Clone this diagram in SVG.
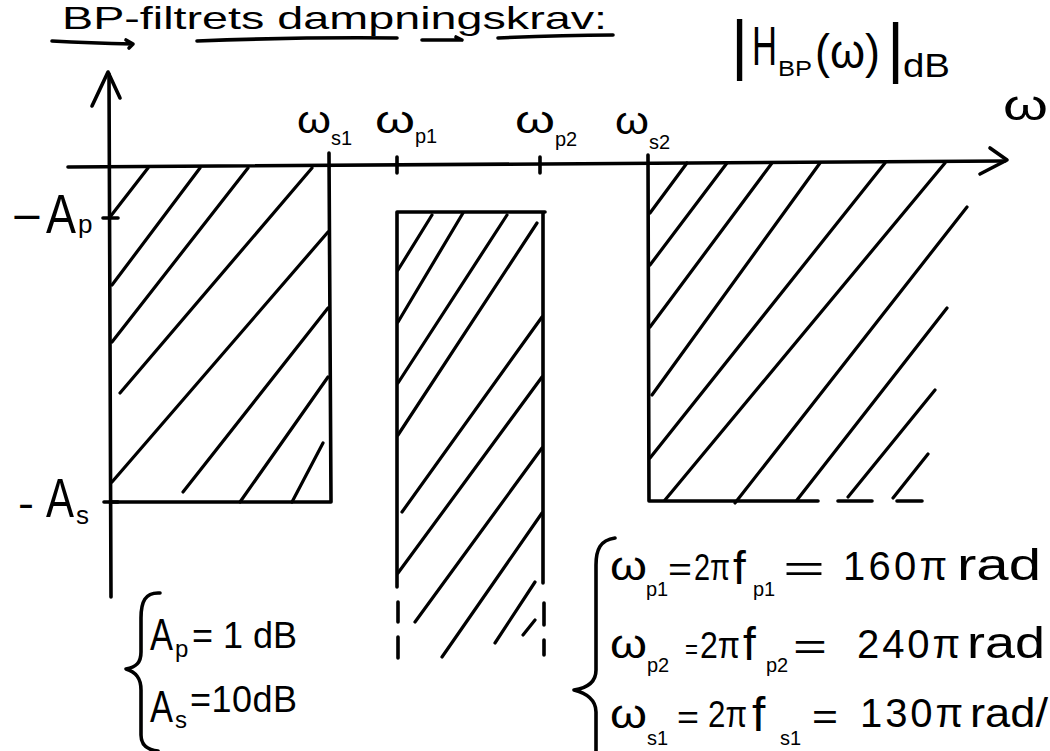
<svg xmlns="http://www.w3.org/2000/svg" width="1050" height="751" viewBox="0 0 1050 751">
<style>
.ln{stroke:#000;stroke-width:3.6;fill:none;stroke-linecap:round;stroke-linejoin:round}
.h{stroke:#000;stroke-width:3.2;fill:none;stroke-linecap:round}
text{font-family:"Liberation Sans","DejaVu Sans",sans-serif;fill:#000}
.sub{font-size:20px}
</style>
<rect width="1050" height="751" fill="#fff"/>
<g id="title">
<text x="62" y="29" font-size="32" textLength="545" lengthAdjust="spacingAndGlyphs">BP-filtrets dampningskrav:</text>
<path class="ln" d="M52 41 Q90 43 133 44 M126 40 L133 44 L129 48"/>
<path class="ln" d="M197 41 Q300 37 397 38"/>
<path class="ln" d="M422 40 L462 40 M456 37 L462 40"/>
<path class="ln" d="M498 38 Q560 35 613 35"/>
</g>
<g id="axes">
<path class="ln" d="M68 167 L1005 161"/>
<path class="ln" d="M990 148 L1007 160 L980 174"/>
<path class="ln" d="M111 597 L109 74"/>
<path class="ln" d="M92 106 L108 72 L120 98" stroke-width="4.5"/>
<path class="ln" d="M103 218 L118 218 M104 502 L118 502" stroke-width="4.5"/>
<path class="ln" d="M397 157 L397 173 M540 157 L540 173"/>
</g>
<g id="left-band">
<path class="ln" d="M329 153 L331 502 L110 502"/>
<path class="h" d="M110 217 L148 168 M112 285 L200 168 M112 342 L248 168 M120 393 L312 168 M112 482 L328 232 M183 492 L328 308 M240 502 L328 377 M292 502 L323 443"/>
</g>
<g id="pass-band">
<path class="ln" d="M397 587 L397 212 L545 212 M543 212 L543 583"/>
<path class="ln" d="M398 602 L398 622 M398 637 L398 658 M544 603 L544 625 M544 640 L544 655"/>
<path class="h" d="M398 270 L432 215 M398 322 L463 213 M398 383 L507 215 M398 435 L537 223 M402 512 L542 317 M398 573 L542 377 M415 622 L542 448 M442 657 L542 513 M495 643 L535 582 M523 635 L535 620"/>
</g>
<g id="right-band">
<path class="ln" d="M648 155 L649 501 L818 501 M838 501 L872 501 M897 501 L922 501"/>
<path class="h" d="M650 213 L687 163 M650 265 L727 163 M650 327 L772 163 M652 395 L820 163 M650 458 L885 163 M665 500 L945 163 M735 503 L967 207 M797 500 L947 308 M848 497 L935 390 M893 498 L928 454"/>
</g>
<g id="labels">
<text x="731" y="67" font-size="66">|</text>
<text x="752" y="65" font-size="56" textLength="25" lengthAdjust="spacingAndGlyphs">H</text>
<text x="778" y="76" font-size="22" textLength="34" lengthAdjust="spacingAndGlyphs">BP</text>
<text x="815" y="68" font-size="48" textLength="65" lengthAdjust="spacingAndGlyphs">(ω)</text>
<text x="887" y="70" font-size="66">|</text>
<text x="903" y="77" font-size="34" textLength="47" lengthAdjust="spacingAndGlyphs">dB</text>
<text x="1003" y="120" font-size="42" textLength="45" lengthAdjust="spacingAndGlyphs">ω</text>
<text x="297" y="133" font-size="38" textLength="34" lengthAdjust="spacingAndGlyphs">ω</text>
<text x="331" y="145" class="sub">s1</text>
<text x="375" y="133" font-size="38" textLength="40" lengthAdjust="spacingAndGlyphs">ω</text>
<text x="415" y="143" class="sub">p1</text>
<text x="515" y="133" font-size="38" textLength="40" lengthAdjust="spacingAndGlyphs">ω</text>
<text x="555" y="146" class="sub">p2</text>
<text x="615" y="134" font-size="38" textLength="34" lengthAdjust="spacingAndGlyphs">ω</text>
<text x="649" y="149" class="sub">s2</text>
<text x="12" y="232" font-size="44" textLength="30" lengthAdjust="spacingAndGlyphs">−</text>
<text x="46" y="233" font-size="56" textLength="30" lengthAdjust="spacingAndGlyphs">A</text>
<text x="78" y="233" font-size="26">p</text>
<text x="18" y="517" font-size="40" textLength="16" lengthAdjust="spacingAndGlyphs">-</text>
<text x="46" y="517" font-size="56" textLength="28" lengthAdjust="spacingAndGlyphs">A</text>
<text x="76" y="524" font-size="26">s</text>
</g>
<g id="spec-attenuation">
<path class="ln" d="M160 593 C145 592 141 602 141 618 L141 652 C141 663 136 667 126 669 C136 672 141 678 141 690 L141 735 C141 746 148 750 158 751"/>
<text x="150" y="650" font-size="44" textLength="23" lengthAdjust="spacingAndGlyphs">A</text>
<text x="175" y="657" font-size="24">p</text>
<text x="192" y="648" font-size="36" textLength="105" lengthAdjust="spacing">= 1 dB</text>
<text x="150" y="722" font-size="44" textLength="23" lengthAdjust="spacingAndGlyphs">A</text>
<text x="175" y="728" font-size="24">s</text>
<text x="190" y="712" font-size="36" textLength="107" lengthAdjust="spacing">=10dB</text>
</g>
<g id="spec-frequencies">
<path class="ln" d="M615 538 C600 540 596 550 596 565 L596 670 C596 682 587 688 574 690 C586 693 596 700 596 712 L596 760"/>
<text x="610" y="580" font-size="40" textLength="37" lengthAdjust="spacingAndGlyphs">ω</text>
<text x="646" y="596" class="sub">p1</text>
<text x="668" y="581" font-size="34" textLength="24" lengthAdjust="spacingAndGlyphs">=</text>
<text x="694" y="580" font-size="36" textLength="36" lengthAdjust="spacingAndGlyphs">2π</text>
<text x="733" y="584" font-size="46">f</text>
<text x="753" y="596" class="sub">p1</text>
<text x="783" y="581" font-size="36" textLength="42" lengthAdjust="spacingAndGlyphs">=</text>
<text x="843" y="580" font-size="40" textLength="104" lengthAdjust="spacing">160π</text>
<text x="957" y="580" font-size="44" textLength="84" lengthAdjust="spacingAndGlyphs">rad</text>
<text x="610" y="658" font-size="40" textLength="37" lengthAdjust="spacingAndGlyphs">ω</text>
<text x="647" y="672" class="sub">p2</text>
<text x="685" y="659" font-size="28" textLength="13" lengthAdjust="spacingAndGlyphs">=</text>
<text x="700" y="658" font-size="36" textLength="40" lengthAdjust="spacingAndGlyphs">2π</text>
<text x="743" y="660" font-size="46">f</text>
<text x="766" y="672" class="sub">p2</text>
<text x="793" y="659" font-size="36" textLength="34" lengthAdjust="spacingAndGlyphs">=</text>
<text x="857" y="658" font-size="40" textLength="103" lengthAdjust="spacing">240π</text>
<text x="967" y="658" font-size="44" textLength="78" lengthAdjust="spacingAndGlyphs">rad</text>
<text x="610" y="728" font-size="40" textLength="37" lengthAdjust="spacingAndGlyphs">ω</text>
<text x="647" y="745" class="sub">s1</text>
<text x="677" y="729" font-size="34" textLength="22" lengthAdjust="spacingAndGlyphs">=</text>
<text x="708" y="727" font-size="36" textLength="39" lengthAdjust="spacingAndGlyphs">2π</text>
<text x="752" y="731" font-size="48">f</text>
<text x="780" y="745" class="sub">s1</text>
<text x="812" y="729" font-size="36" textLength="26" lengthAdjust="spacingAndGlyphs">=</text>
<text x="860" y="727" font-size="40" textLength="103" lengthAdjust="spacing">130π</text>
<text x="970" y="727" font-size="40" textLength="78" lengthAdjust="spacingAndGlyphs">rad/</text>
</g>
</svg>
